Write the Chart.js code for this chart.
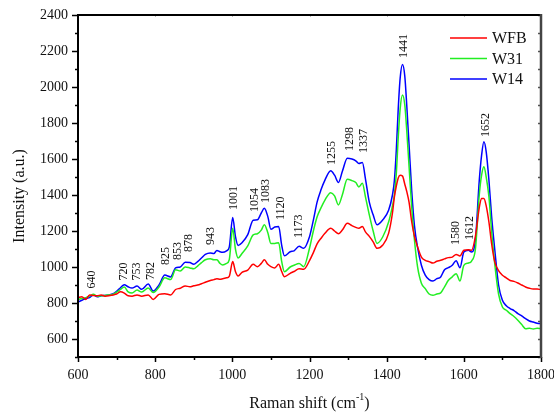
<!DOCTYPE html>
<html>
<head>
<meta charset="utf-8">
<script src="https://cdn.jsdelivr.net/npm/chart.js@4.4.1/dist/chart.umd.min.js"></script>
<style>
  html, body { margin: 0; padding: 0; background: #fff; }
  #wrap { width: 554px; height: 414px; position: relative; }
</style>
</head>
<body>
<div id="wrap"><canvas id="myChart" width="554" height="414"></canvas></div>
<script>
'use strict';

// Raman shift (cm-1) sample positions
const ramanShift = [600, 610, 620, 630, 640, 650, 660, 670, 680, 690, 700, 710, 720, 730, 740, 753, 765, 782, 795, 810,
  825, 840, 853, 865, 878, 890, 900, 910, 920, 930, 943, 952, 960, 968, 975, 985, 992, 1001, 1008, 1015,
  1025, 1040, 1054, 1065, 1075, 1083, 1092, 1100, 1110, 1120, 1128, 1135, 1150, 1160, 1173, 1185, 1200, 1210, 1220, 1230,
  1240, 1255, 1265, 1275, 1285, 1298, 1310, 1320, 1328, 1337, 1345, 1355, 1365, 1375, 1390, 1405, 1415, 1420, 1425, 1430,
  1435, 1441, 1447, 1452, 1458, 1465, 1472, 1480, 1490, 1500, 1510, 1520, 1530, 1540, 1550, 1560, 1570, 1580, 1590, 1600,
  1612, 1620, 1630, 1640, 1646, 1652, 1658, 1665, 1672, 1680, 1690, 1700, 1710, 1720, 1730, 1740, 1750, 1760, 1770, 1780,
  1790, 1800];

const wfb = [830, 835, 820, 845, 842, 840, 845, 838, 840, 845, 850, 862, 855, 840, 838, 845, 838, 845, 820, 848,
  852, 845, 875, 882, 895, 890, 896, 900, 907, 915, 925, 930, 935, 932, 935, 940, 948, 1030, 975, 950,
  970, 983, 1015, 1002, 1020, 1040, 1015, 1002, 995, 1015, 975, 946, 965, 975, 990, 987, 1035, 1080, 1130, 1160,
  1187, 1215, 1200, 1185, 1205, 1243, 1230, 1220, 1215, 1225, 1195, 1170, 1140, 1104, 1122, 1187, 1300, 1390, 1450, 1495,
  1510, 1505, 1460, 1420, 1360, 1250, 1170, 1113, 1055, 1037, 1030, 1022, 1032, 1037, 1045, 1052, 1055, 1070, 1061, 1093,
  1096, 1093, 1170, 1330, 1380, 1381, 1340, 1250, 1130, 1030, 980, 954, 940, 925, 920, 911, 900, 889, 882, 878,
  878, 874];

const w31 = [820, 825, 830, 838, 848, 838, 840, 842, 845, 848, 860, 875, 889, 862, 856, 872, 861, 883, 858, 889,
  940, 930, 985, 978, 1000, 995, 990, 1005, 1024, 1040, 1046, 1040, 1040, 1020, 1011, 1020, 1040, 1215, 1100, 1050,
  1075, 1117, 1178, 1185, 1205, 1235, 1190, 1131, 1131, 1135, 1030, 974, 1000, 1010, 1020, 1002, 1104, 1200, 1280, 1330,
  1372, 1413, 1395, 1345, 1400, 1487, 1480, 1469, 1445, 1465, 1390, 1290, 1200, 1131, 1168, 1250, 1340, 1400, 1520, 1720,
  1880, 1956, 1900, 1760, 1560, 1330, 1150, 1002, 910, 880, 850, 843, 850, 856, 890, 926, 945, 963, 922, 1009,
  1022, 1033, 1100, 1400, 1510, 1557, 1500, 1390, 1200, 1020, 850, 778, 760, 741, 725, 704, 680, 657, 660, 655,
  660, 657];

const w14 = [805, 815, 825, 830, 845, 835, 840, 842, 845, 850, 865, 885, 902, 890, 883, 894, 876, 905, 866, 900,
  955, 945, 995, 1000, 1027, 1025, 1015, 1030, 1050, 1070, 1078, 1075, 1092, 1085, 1082, 1090, 1110, 1275, 1170, 1120,
  1135, 1180, 1260, 1262, 1300, 1326, 1280, 1210, 1222, 1225, 1120, 1062, 1085, 1090, 1115, 1104, 1168, 1260, 1363, 1430,
  1483, 1535, 1510, 1470, 1530, 1604, 1600, 1590, 1575, 1580, 1490, 1360, 1290, 1235, 1262, 1315, 1400, 1480, 1650, 1880,
  2050, 2125, 2060, 1900, 1680, 1420, 1230, 1110, 1010, 955, 930, 922, 935, 945, 985, 996, 1010, 1035, 996, 1083,
  1093, 1083, 1150, 1480, 1620, 1696, 1640, 1483, 1280, 1100, 900, 815, 785, 769, 758, 741, 728, 713, 700, 694,
  688, 685];

const seriesNames = ['WFB', 'W31', 'W14'];
const seriesColors = ['#ff0000', '#22ee22', '#0000ff'];

const xTickValues = [600, 800, 1000, 1200, 1400, 1600, 1800];
const yTickValues = [600, 800, 1000, 1200, 1400, 1600, 1800, 2000, 2200, 2400];

// peak labels: wavenumber and the intensity where the label's foot sits
const peakLabels = ['640', '720', '753', '782', '825', '853', '878', '943', '1001', '1054',
  '1083', '1120', '1173', '1255', '1298', '1337', '1441', '1580', '1612', '1652'];
const peakLabelX = [636, 718, 753, 788, 827, 858, 886, 945, 1003, 1059,
  1088, 1125, 1172, 1259, 1304, 1340, 1444, 1578, 1615, 1657];
const peakLabelY = [880, 925, 925, 928, 1011, 1039, 1083, 1122, 1317, 1306,
  1356, 1261, 1161, 1567, 1644, 1633, 2161, 1122, 1150, 1722];

const serif = "'Liberation Serif', 'Times New Roman', serif";
Chart.defaults.font.family = serif;

const framePlugin = {
  id: 'frame',
  afterDraw(chart) {
    const { ctx, chartArea: a, scales: { x, y } } = chart;
    ctx.save();
    ctx.lineCap = 'butt';

    // tick marks
    ctx.strokeStyle = '#000';
    ctx.lineWidth = 1.5;
    for (let v = 600; v <= 1800; v += 100) {
      const px = Math.round(x.getPixelForValue(v)) + 0.5;
      const len = v % 200 === 0 ? 5 : 3;
      ctx.beginPath();
      ctx.moveTo(px, a.bottom);
      ctx.lineTo(px, a.bottom + len);
      ctx.stroke();
    }
    for (let v = 500; v <= 2400; v += 100) {
      const py = Math.round(y.getPixelForValue(v)) + 0.5;
      const len = v % 200 === 0 ? 6 : 3;
      ctx.beginPath();
      ctx.moveTo(a.left, py);
      ctx.lineTo(a.left - len, py);
      ctx.stroke();
      ctx.strokeStyle = '#555';
      ctx.beginPath();
      ctx.moveTo(a.right, py);
      ctx.lineTo(a.right - 3, py);
      ctx.stroke();
      ctx.strokeStyle = '#000';
    }
    ctx.strokeStyle = '#bbb';
    ctx.lineWidth = 1;
    for (let v = 800; v < 1800; v += 200) {
      const px = Math.round(x.getPixelForValue(v)) + 0.5;
      ctx.beginPath();
      ctx.moveTo(px, a.top);
      ctx.lineTo(px, a.top + 2);
      ctx.stroke();
    }

    // frame
    ctx.lineWidth = 2;
    ctx.strokeStyle = '#000';
    ctx.beginPath();
    ctx.moveTo(a.right, a.top);
    ctx.lineTo(a.left, a.top);
    ctx.lineTo(a.left, a.bottom);
    ctx.lineTo(a.right, a.bottom);
    ctx.stroke();
    ctx.strokeStyle = '#444';
    ctx.lineWidth = 2.5;
    ctx.beginPath();
    ctx.moveTo(a.right, a.top - 1);
    ctx.lineTo(a.right, a.bottom + 1);
    ctx.stroke();

    // tick labels
    ctx.fillStyle = '#111';
    ctx.font = '14px ' + serif;
    ctx.textAlign = 'right';
    ctx.textBaseline = 'middle';
    yTickValues.forEach(v => ctx.fillText(String(v), a.left - 10, y.getPixelForValue(v)));
    ctx.textAlign = 'center';
    xTickValues.forEach(v => ctx.fillText(String(v), x.getPixelForValue(v), 375));

    // peak labels
    ctx.font = '12px ' + serif;
    ctx.textAlign = 'left';
    peakLabels.forEach((t, i) => {
      ctx.save();
      ctx.translate(x.getPixelForValue(peakLabelX[i]), y.getPixelForValue(peakLabelY[i]));
      ctx.rotate(-Math.PI / 2);
      ctx.fillText(t, 0, 0);
      ctx.restore();
    });

    // legend
    ctx.font = '16px ' + serif;
    seriesNames.forEach((name, i) => {
      const ly = 38 + i * 20.5;
      ctx.strokeStyle = seriesColors[i];
      ctx.lineWidth = 1.5;
      ctx.beginPath();
      ctx.moveTo(450, ly);
      ctx.lineTo(487, ly);
      ctx.stroke();
      ctx.fillStyle = '#111';
      ctx.fillText(name, 492, ly + 1);
    });

    // axis titles
    ctx.fillStyle = '#111';
    ctx.font = '16px ' + serif;
    ctx.textBaseline = 'alphabetic';
    const base = 'Raman shift (cm';
    const wBase = ctx.measureText(base).width;
    ctx.font = '10px ' + serif;
    const wSup = ctx.measureText('-1').width;
    ctx.font = '16px ' + serif;
    const wEnd = ctx.measureText(')').width;
    const tx = (a.left + a.right) / 2 - (wBase + wSup + wEnd) / 2;
    ctx.fillText(base, tx, 408);
    ctx.font = '10px ' + serif;
    ctx.fillText('-1', tx + wBase, 400);
    ctx.font = '16px ' + serif;
    ctx.fillText(')', tx + wBase + wSup, 408);

    ctx.save();
    ctx.translate(24, (a.top + a.bottom) / 2 + 10);
    ctx.rotate(-Math.PI / 2);
    ctx.textAlign = 'center';
    ctx.fillText('Intensity (a.u.)', 0, 0);
    ctx.restore();

    ctx.restore();
  }
};

const bgPlugin = {
  id: 'bg',
  beforeDraw(chart) {
    const c = chart.ctx;
    c.save();
    c.fillStyle = '#fff';
    c.fillRect(0, 0, chart.width, chart.height);
    c.restore();
  }
};

const ctx = document.getElementById('myChart');
const seriesData = [wfb, w31, w14];

new Chart(ctx, {
  type: 'line',
  data: {
    datasets: seriesNames.map((name, i) => ({
      label: name,
      data: ramanShift.map((r, j) => ({ x: r, y: seriesData[i][j] })),
      borderColor: seriesColors[i],
      backgroundColor: 'transparent',
      borderWidth: 1.5,
      pointRadius: 0,
      cubicInterpolationMode: 'monotone',
      fill: false
    }))
  },
  options: {
    responsive: false,
    animation: false,
    layout: { padding: { left: 0, right: 13, top: 15, bottom: 0 } },
    plugins: {
      legend: { display: false },
      tooltip: { enabled: false }
    },
    scales: {
      x: {
        type: 'linear',
        min: 600,
        max: 1800,
        grid: { display: false },
        border: { display: false },
        ticks: { display: false },
        afterFit: s => { s.height = 57; }
      },
      y: {
        type: 'linear',
        min: 500,
        max: 2400,
        grid: { display: false },
        border: { display: false },
        ticks: { display: false },
        afterFit: s => { s.width = 78; }
      }
    }
  },
  plugins: [bgPlugin, framePlugin]
});
</script>
</body>
</html>
